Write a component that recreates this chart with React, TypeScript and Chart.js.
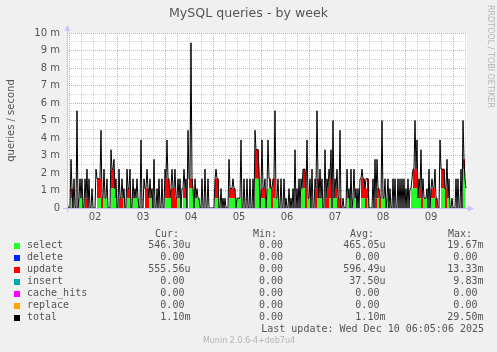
import React, { useEffect, useRef } from 'react';
import { Chart, registerables } from 'chart.js';

Chart.register(...registerables);

// ---- data (milli-queries per second) ----
// total: one sample every 30 minutes (400 samples)
const TOTAL = [
  0.56,0,0,0,2.78,1.11,0,1.67,0,0,5.56,0,0.56,1.67,0.56,1.67,0,0,1.67,0.56,
  2.22,0,1.67,0,0,1.11,0,0,0,2.22,1.67,1.67,1.67,1.67,4.44,0.56,0.56,2.22,0.56,0.56,
  1.67,0,0,0,3.33,2.22,2.22,2.78,1.11,1.67,0,0,2.22,0.56,0.56,1.67,0.56,1.11,0,0,
  2.22,1.11,1.11,2.22,0,0,1.67,0.56,1.11,0.56,1.67,0.56,0,0,3.89,0,0,1.67,1.11,1.11,
  2.22,1.11,0.56,1.67,0.56,1.11,0,2.78,0,0,1.11,0,1.67,0,0,1.67,0,0,2.22,1.67,
  3.89,1.67,1.67,0.56,1.11,2.22,1.11,1.11,2.22,0.56,0.56,1.67,0.56,1.67,0,1.11,1.11,2.22,1.11,1.67,
  0,4.44,1.67,1.67,9.44,1.67,1.11,0,1.67,0.56,1.11,0.56,0.56,0,0,1.67,0,0,2.22,0,
  0,1.67,0,0,0,0,0,0,1.67,2.22,1.67,1.67,0,0,1.11,0,0.56,0,0.56,0,
  0,0,2.78,1.11,1.11,1.11,1.67,1.11,1.11,0,0.56,0.56,0.56,0.56,3.89,0,0,1.67,0,0,
  1.67,0,0,1.67,0,0,1.67,0,4.44,3.33,3.33,3.33,2.22,0,1.11,3.89,1.11,1.11,1.67,0,
  1.11,3.89,1.67,1.67,1.11,1.11,1.67,1.67,5.56,0.56,0.56,1.67,0,0,1.67,0,0,1.67,0,0.56,
  0,0,1.11,0,0.56,0,1.11,0,3.33,0,1.11,0,1.67,0,1.67,1.11,2.22,2.22,2.22,1.11,
  3.89,0.56,0.56,1.67,0,2.22,0,0,1.67,1.11,5.56,1.67,0.56,2.22,0.56,1.67,0,0,3.33,0.56,
  1.67,1.11,2.22,1.67,3.33,0,5,0.56,1.67,1.11,2.22,0.56,0.56,4.44,0,0,0.56,0,0,0,
  2.22,0.56,1.11,0,2.22,0,0.56,2.22,0.56,1.11,0,1.11,0,1.67,1.67,2.22,1.67,1.67,1.11,1.67,
  1.67,1.67,0,0,0,0,1.67,0,2.78,0.56,2.78,1.11,1.11,0.56,0.56,5,0.56,0.56,1.67,0,
  0.56,1.67,0,1.11,0,0,1.67,0,1.67,0,0,1.67,0,1.67,0,1.67,0,1.67,0,1.11,
  0,1.67,0,1.11,1.11,1.67,2.22,2.22,5,2.22,3.89,0.56,1.67,1.11,3.33,0.56,1.67,0.56,0.56,0.56,
  1.11,0,2.22,0,1.11,1.67,1.11,1.11,2.22,0.56,0.56,0,0,3.89,2.22,2.22,2.22,2.22,1.11,1.11,
  2.78,0.56,1.67,0,0,0.56,0,0,0,1.67,0,1.67,0,0,2.22,0,5,2.78,1.67,1.11,
];
// select and update: one sample per hour (200 samples)
const SELECT = [
  0,0,0.56,0,0,0,0.56,0.56,0,0,0,0,0,0,0,0.56,0.56,0,0.56,0.56,
  0,0,1.11,1.11,0.56,0,0,0,0.56,0,0.56,0.56,0,0.56,0.56,0.56,0,0,0,0,
  0,0.56,0.56,0,0,0,0,0,0,0.56,0.56,0.56,0,0,0,0.56,0.56,0,0.56,0.56,
  0,1.11,1.11,0,0.56,0.56,0,0,0,0,0,0,0,0,0.56,0.56,0,0,0,0,
  0,0.56,0.56,0.56,0,0.56,0.56,0,0,0,0,0,0,0,1.67,1.67,0,0.56,0.56,0,
  1.11,1.11,0,0.56,0.56,0.56,0,0,0,0,0,0,0,0,0,0,0,1.11,1.11,0,
  0.56,0.56,0,0,0,0.56,0.56,0.56,0,0,0,0.56,0,0.56,0.56,0,0,0,0,0,
  0.56,0,0,0.56,0.56,0,0,0.56,0.56,0,0.56,0,0,0,0,0.56,0,0.56,0.56,0,
  0.56,0,0,0,0,0,0,0,0,0,0,0,1.11,1.11,1.11,0.56,0.56,0,0.56,0.56,
  0,0,0.56,0.56,0,0,0,1.11,1.11,0,0.56,0,0,0,0,0,0,0,2.22,0.56,
];
const UPDATE = [
  0,0,0.56,0,0,0,0,0,0,0.56,0,0,0,0,0,1.11,1.11,0.56,0,0,
  0,0,1.11,1.11,0.56,0,0.56,0.56,0,0,0.56,0.56,0,0,0,0,0,0,0,1.11,
  1.11,0,0,0,0,0,0,0,0,1.11,1.11,0,1.11,1.11,0.56,0,0,0,0.56,0.56,
  0,0.56,0.56,0,0,0,0,0,0,0,0,0,0,0,1.11,1.11,0,0,0,0,
  0,0.56,0.56,0.56,0,0,0,0,0,0,0,0,0,0,1.67,1.67,0,0.56,0.56,0,
  0,0.56,1.11,1.11,0,0,0,0,0,0,0,0,0,0,0,0,0,0,1.11,1.11,
  0,0,0,0,1.11,1.11,0,0,0,0.56,1.11,1.11,0,0,0.56,0.56,0.56,0,0,0,
  0,0,0,0,0,0,0,1.11,1.11,1.11,1.11,0,0,0,0.56,0.56,0.56,0,0,0,
  0,0,0,0,0,0,0,0,0,0,0,0,0,1.11,1.11,0,0.56,0.56,0,0,
  0,0,0.56,0.56,0.56,0,0,1.11,1.11,1.11,0,0,0,0,0,0,0,0,0.56,0.56,
];

// axis labels
const DAY_LABELS = ['02', '03', '04', '05', '06', '07', '08', '09'];
const DAY_LABEL_HOURS = [13, 37, 61, 85, 109, 133, 157, 181];
const Y_TICK_VALUES = [0, 0.5, 1, 1.5, 2, 2.5, 3, 3.5, 4, 4.5, 5, 5.5, 6, 6.5, 7, 7.5, 8, 8.5, 9, 9.5, 10];
const Y_TICK_LABELS = ['0', '', '1 m', '', '2 m', '', '3 m', '', '4 m', '', '5 m', '', '6 m', '', '7 m', '', '8 m', '', '9 m', '', '10 m'];

// legend
const SERIES_NAMES = ['select', 'delete', 'update', 'insert', 'cache_hits', 'replace', 'total'];
const SERIES_COLORS = ['#22ff22', '#0022ff', '#ff0000', '#00aaaa', '#ff00ff', '#ffa500', '#000000'];
const CUR_VALUES = ['546.30u', '0.00', '555.56u', '0.00', '0.00', '0.00', '1.10m'];
const MIN_VALUES = ['0.00', '0.00', '0.00', '0.00', '0.00', '0.00', '0.00'];
const AVG_VALUES = ['465.05u', '0.00', '596.49u', '37.50u', '0.00', '0.00', '1.10m'];
const MAX_VALUES = ['19.67m', '0.00', '13.33m', '9.83m', '0.00', '0.00', '29.50m'];

const TEXT = '#555555';
const LIGHT = '#b4b4b4';
const MAJOR = 'rgba(225, 110, 110, 0.65)';
const MINOR = 'rgba(150, 150, 150, 0.42)';
const AXIS = 'rgb(196, 196, 245)';

function fmt(v: string): string {
  const s = /[a-z]$/.test(v) ? v : v + ' ';
  return s.padStart(7, ' ');
}

const muninPlugin = {
  id: 'muninDecor',
  beforeDraw(chart: any) {
    const { ctx, chartArea: a, width, height } = chart;
    ctx.save();
    ctx.fillStyle = '#f0f0f0';
    ctx.fillRect(0, 0, width, height);
    ctx.fillStyle = '#ffffff';
    ctx.fillRect(a.left, a.top, a.right - a.left, a.bottom - a.top);
    ctx.restore();
  },
  afterDraw(chart: any) {
    const { ctx, chartArea: a, width } = chart;
    ctx.save();
    // axes with arrows
    ctx.strokeStyle = AXIS;
    ctx.fillStyle = AXIS;
    ctx.lineWidth = 1;
    const lx = a.left + 0.5;
    const by = a.bottom + 0.5;
    ctx.beginPath();
    ctx.moveTo(lx, a.bottom + 4);
    ctx.lineTo(lx, a.top - 2);
    ctx.moveTo(a.left - 4, by);
    ctx.lineTo(a.right + 1, by);
    ctx.stroke();
    ctx.beginPath();
    ctx.moveTo(lx, a.top - 8);
    ctx.lineTo(lx - 3, a.top - 2);
    ctx.lineTo(lx + 3, a.top - 2);
    ctx.closePath();
    ctx.fill();
    ctx.beginPath();
    ctx.moveTo(a.right + 7, by);
    ctx.lineTo(a.right + 1, by - 3);
    ctx.lineTo(a.right + 1, by + 3);
    ctx.closePath();
    ctx.fill();

    // title
    ctx.fillStyle = TEXT;
    ctx.font = '12.6px "DejaVu Sans"';
    ctx.textAlign = 'center';
    ctx.textBaseline = 'middle';
    ctx.fillText('MySQL queries - by week', 248.5, 13.5);

    // vertical credit
    ctx.save();
    ctx.translate(width - 7, 5);
    ctx.rotate(Math.PI / 2);
    ctx.fillStyle = LIGHT;
    ctx.font = '8px "DejaVu Sans"';
    ctx.textAlign = 'left';
    ctx.textBaseline = 'middle';
    ctx.fillText('RRDTOOL / TOBI OETIKER', 0, 0);
    ctx.restore();

    // legend
    ctx.font = '10px "DejaVu Sans Mono"';
    ctx.textAlign = 'left';
    ctx.textBaseline = 'middle';
    ctx.fillStyle = TEXT;
    ctx.fillText('Cur:', 155, 234);
    ctx.fillText('Min:', 253, 234);
    ctx.fillText('Avg:', 350, 234);
    ctx.fillText('Max:', 448, 234);
    for (let i = 0; i < SERIES_NAMES.length; i++) {
      const y = 245.5 + 12 * i;
      ctx.fillStyle = SERIES_COLORS[i];
      ctx.fillRect(14, Math.round(y) - 3, 6, 6);
      ctx.fillStyle = TEXT;
      ctx.fillText(SERIES_NAMES[i], 27, y);
      ctx.fillText(fmt(CUR_VALUES[i]), 148.3, y);
      ctx.fillText(fmt(MIN_VALUES[i]), 247, y);
      ctx.fillText(fmt(AVG_VALUES[i]), 343.3, y);
      ctx.fillText(fmt(MAX_VALUES[i]), 441.3, y);
    }
    ctx.textAlign = 'right';
    ctx.fillText('Last update: Wed Dec 10 06:05:06 2025', 484, 329.5);
    ctx.textAlign = 'center';
    ctx.fillStyle = LIGHT;
    ctx.font = '8px "DejaVu Sans"';
    ctx.fillText('Munin 2.0.6-4+deb7u4', 249, 340.5);
    ctx.restore();
  },
};

export default function App() {
  const canvasRef = useRef<HTMLCanvasElement | null>(null);

  useEffect(() => {
    const canvas = canvasRef.current;
    if (!canvas) return;
    const totalPts = TOTAL.map((v, k) => ({ x: k * 0.5, y: v }));
    const selectPts = SELECT.map((v, j) => ({ x: j, y: v }));
    const updatePts = UPDATE.map((v, j) => ({ x: j, y: v }));

    const chart = new Chart(canvas, {
      type: 'line',
      data: {
        datasets: [
          {
            label: 'total',
            data: totalPts,
            borderColor: '#000000',
            borderWidth: 1,
            pointRadius: 0,
            fill: false,
            tension: 0,
            stack: 'total',
            order: 0,
          } as any,
          {
            label: 'select',
            data: selectPts,
            borderColor: 'rgba(0,0,0,0)',
            borderWidth: 0,
            backgroundColor: SERIES_COLORS[0],
            pointRadius: 0,
            fill: 'origin',
            stepped: true,
            stack: 'areas',
            order: 1,
          } as any,
          {
            label: 'update',
            data: updatePts,
            borderColor: 'rgba(0,0,0,0)',
            borderWidth: 0,
            backgroundColor: SERIES_COLORS[2],
            pointRadius: 0,
            fill: '-1',
            stepped: true,
            stack: 'areas',
            order: 2,
          } as any,
        ],
      },
      options: {
        responsive: false,
        animation: false,
        devicePixelRatio: 1,
        events: [],
        layout: { padding: { left: 0, right: 30, top: 33, bottom: 124 } },
        plugins: {
          legend: { display: false },
          tooltip: { enabled: false },
          title: { display: false },
        },
        scales: {
          x: {
            type: 'linear',
            min: 0,
            max: 200,
            afterFit: (s: any) => { s.height = 20; },
            afterBuildTicks: (s: any) => {
              const t = [];
              for (let h = 1; h <= 200; h += 6) t.push({ value: h });
              s.ticks = t;
            },
            ticks: {
              autoSkip: false,
              maxRotation: 0,
              padding: 3,
              labelOffset: 2,
              color: TEXT,
              font: { family: 'DejaVu Sans', size: 10 },
              callback: (value: any) => {
                const i = DAY_LABEL_HOURS.indexOf(Number(value));
                return i >= 0 ? DAY_LABELS[i] : '';
              },
            },
            grid: {
              drawTicks: false,
              lineWidth: 1,
              color: (c: any) => ((c.tick && (c.tick.value - 1) % 24 === 0) ? MAJOR : MINOR),
            },
            border: { display: false, dash: [1, 1] },
          },
          y: {
            type: 'linear',
            min: 0,
            max: 10,
            stacked: true,
            afterFit: (s: any) => { s.width = 67; },
            afterBuildTicks: (s: any) => {
              s.ticks = Y_TICK_VALUES.map((v) => ({ value: v }));
            },
            ticks: {
              autoSkip: false,
              padding: 7,
              color: TEXT,
              font: { family: 'DejaVu Sans', size: 10 },
              callback: (value: any) => {
                const i = Y_TICK_VALUES.indexOf(Number(value));
                return i >= 0 ? Y_TICK_LABELS[i] : '';
              },
            },
            title: {
              display: true,
              text: 'queries / second',
              color: TEXT,
              font: { family: 'DejaVu Sans', size: 10 },
              padding: { top: 5, bottom: 0 },
            },
            grid: {
              drawTicks: false,
              lineWidth: 1,
              color: (c: any) => ((c.tick && Number.isInteger(c.tick.value)) ? MAJOR : MINOR),
            },
            border: { display: false, dash: [1, 1] },
          },
        },
      } as any,
      plugins: [muninPlugin],
    });
    return () => chart.destroy();
  }, []);

  return (
    <div style={{ position: 'fixed', left: 0, top: 0, width: 497, height: 352, background: '#f0f0f0' }}>
      <canvas ref={canvasRef} width={497} height={352} style={{ display: 'block' }} />
    </div>
  );
}
